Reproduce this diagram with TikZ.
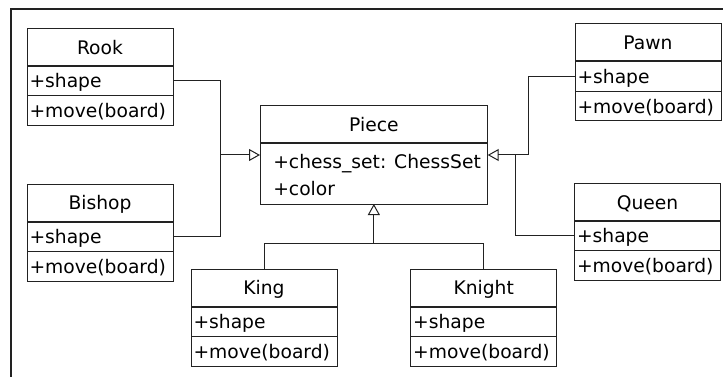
\documentclass[tikz,border=0pt]{standalone}
\usepackage{fontspec}
\setmainfont{DejaVu Sans}
\usetikzlibrary{arrows.meta}
\definecolor{ln}{HTML}{222222}
\newcommand\chessclass[4]{%
  \node[ttl] (#1T) at (#2,#3) {#4};
  \node[rowbox=30pt] (#1S) at (#1T.south west) {+shape};
  \node[rowbox=29.5pt] (#1M) at (#1S.south west) {+move(board)};
  \draw[divline] (#1T.south west) -- (#1T.south east);
}
\begin{document}
\begin{tikzpicture}[x=1pt,y=-1pt,
  every node/.style={font=\fontsize{18.7}{22}\selectfont, inner sep=0pt, outer sep=0pt, text=black},
  ttl/.style={draw=ln, line width=1pt, minimum width=146pt, minimum height=37.5pt,
    text height=14pt, text depth=0pt, anchor=north west},
  rowbox/.style={draw=ln, line width=1pt, minimum width=146pt, minimum height=#1,
    text height=14pt, text depth=0pt, text width=141pt, align=left, anchor=north west},
  divline/.style={draw=ln, line width=2pt},
  conn/.style={draw=ln, line width=1pt},
  inh/.style={draw=ln, line width=1pt, -{Triangle[open, length=11pt, width=12pt]}},
  frame/.style={draw=ln, line width=1.3pt}
]
\useasboundingbox (0,0) rectangle (723,377);
\draw[frame] (11,377) -- (11,9) -- (723,9);

\chessclass{rook}{27}{28.3}{Rook}
\chessclass{pawn}{575}{24}{Pawn}
\chessclass{bishop}{27}{184}{Bishop}
\chessclass{queen}{574.5}{183.3}{Queen}
\chessclass{king}{191}{269}{King}
\chessclass{knight}{410.7}{269}{Knight}

\node[draw=ln, line width=1pt, minimum width=227.7pt, minimum height=37.3pt,
  text height=14pt, text depth=0pt, anchor=north west] (pieceT) at (260,106) {Piece};
\node[draw=ln, line width=1pt, minimum width=227.7pt, minimum height=60.7pt,
  anchor=north west] (pieceB) at (pieceT.south west) {};
\draw[divline] (pieceT.south west) -- (pieceT.south east);
\node[anchor=base west] (pc1) at (273.3,168.3) {+chess\_set: ChessSet};
\node[anchor=base west] (pc2) at (273.3,195) {+color};

\coordinate (jl) at (220.7,155);
\coordinate (jr) at (528,155);
\coordinate (jq) at (515.7,155);
\coordinate (by) at (0,243.3);
\coordinate (jb) at (pieceB.south |- by);

\draw[conn] (rookS.east) -| (jl);
\draw[conn] (bishopS.east) -| (jl);
\draw[inh] (jl) -- (jl -| pieceB.west);
\draw[conn] (pawnS.west) -| (jr);
\draw[inh] (jr) -- (jr -| pieceB.east);
\draw[conn] (queenS.west) -| (jq);
\draw[inh] (jb) -- (pieceB.south);
\draw[conn] (kingT.north) |- (jb) -| (knightT.north);
\end{tikzpicture}
\end{document}
